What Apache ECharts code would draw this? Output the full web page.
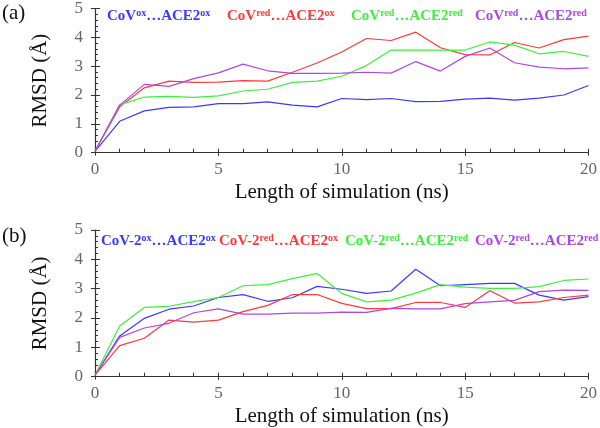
<!DOCTYPE html>
<html><head><meta charset="utf-8">
<script src="https://cdn.jsdelivr.net/npm/echarts@6/dist/echarts.min.js"></script>
<style>html,body{margin:0;padding:0;background:#fff}#c{width:600px;height:428px}</style>
</head><body><div id="c"></div>
<script>
const time = [0,1,2,3,4,5,6,7,8,9,10,11,12,13,14,15,16,17,18,19,20];
const xTicks = [0,5,10,15,20];
const yTicks = [0,1,2,3,4,5];
// panel (a)
const a_ox_ox   = [0.05,1.09,1.45,1.57,1.59,1.70,1.70,1.76,1.65,1.59,1.88,1.84,1.88,1.77,1.78,1.86,1.89,1.82,1.89,2.00,2.33];
const a_red_ox  = [0.05,1.59,2.25,2.48,2.44,2.45,2.50,2.48,2.79,3.11,3.49,3.96,3.89,4.18,3.64,3.40,3.39,3.82,3.63,3.92,4.04];
const a_red_red = [0.05,1.66,1.93,1.95,1.92,1.97,2.14,2.20,2.44,2.48,2.65,3.02,3.56,3.56,3.56,3.56,3.84,3.73,3.43,3.51,3.34];
const a_red_red2= [0.05,1.65,2.37,2.30,2.57,2.77,3.07,2.84,2.75,2.75,2.76,2.79,2.76,3.16,2.83,3.34,3.63,3.12,2.97,2.91,2.94];
// panel (b)
const b_ox_ox   = [0.05,1.39,1.99,2.30,2.41,2.70,2.80,2.57,2.69,3.08,2.98,2.84,2.92,3.66,3.10,3.14,3.18,3.18,2.78,2.61,2.73];
const b_red_ox  = [0.05,1.06,1.31,1.93,1.86,1.93,2.22,2.43,2.80,2.80,2.50,2.32,2.32,2.53,2.53,2.36,2.93,2.51,2.55,2.70,2.78];
const b_red_red = [0.05,1.73,2.36,2.40,2.56,2.70,3.10,3.14,3.34,3.52,2.84,2.55,2.61,2.85,3.14,3.05,3.01,3.01,3.07,3.28,3.33];
const b_red_red2= [0.05,1.34,1.66,1.82,2.18,2.31,2.13,2.13,2.17,2.17,2.20,2.19,2.33,2.31,2.31,2.49,2.55,2.60,2.90,2.95,2.94];

const C = {blue:'#3a3aff', red:'#ff3a3a', green:'#3cf03c', purple:'#b046e6'};
const serif = '"Liberation Serif","DejaVu Serif",serif';
const pair = arr => time.map((t,i)=>[t,arr[i]]);

function mainX(gi){return {type:'value',gridIndex:gi,min:xTicks[0],max:xTicks[xTicks.length-1],interval:xTicks[1]-xTicks[0],
  name:'Length of simulation (ns)',nameLocation:'middle',nameGap:29,
  nameTextStyle:{fontFamily:serif,fontSize:21,color:'#111'},
  axisLine:{lineStyle:{color:'#333',width:1.2}},
  axisTick:{inside:true,length:4,lineStyle:{color:'#333'}},
  minorTick:{show:true,splitNumber:5,length:4,lineStyle:{color:'#333'}},
  axisLabel:{fontFamily:serif,fontSize:17,color:'#666',margin:8},
  splitLine:{show:false}};}
function ovX(gi){return {type:'value',gridIndex:gi,min:0,max:20,interval:5,position:'bottom',
  axisLine:{show:false},axisTick:{show:true,inside:false,length:3,lineStyle:{color:'#333'}},
  axisLabel:{show:false},splitLine:{show:false}};}
function mainY(gi){return {type:'value',gridIndex:gi,min:yTicks[0],max:yTicks[yTicks.length-1],interval:1,
  name:'RMSD (Å)',nameLocation:'middle',nameGap:44,
  nameTextStyle:{fontFamily:serif,fontSize:21,color:'#111'},
  axisLine:{show:true,lineStyle:{color:'#333',width:1.2}},
  axisTick:{show:true,inside:true,length:5,lineStyle:{color:'#333'}},
  minorTick:{show:true,splitNumber:5,length:3,lineStyle:{color:'#333'}},
  axisLabel:{fontFamily:serif,fontSize:17,color:'#666',margin:12},
  splitLine:{show:false}};}
function ovY(gi){return {type:'value',gridIndex:gi,min:0,max:5,interval:1,position:'left',
  axisLine:{show:false},axisTick:{show:true,inside:false,length:4,lineStyle:{color:'#333'}},
  axisLabel:{show:false},splitLine:{show:false}};}

function ser(xi,yi,data,color){return {type:'line',xAxisIndex:xi,yAxisIndex:yi,data:pair(data),
  showSymbol:false,symbol:'none',lineStyle:{color:color,width:1.2},itemStyle:{color:color},animation:false,z:3};}

function legendText(x,y,parts,color){
  return {type:'text',left:x,top:y,style:{
    text:parts.map(p=>'{'+p[0]+'|'+p[1]+'}').join(''),
    rich:{m:{fontFamily:serif,fontSize:15,fontWeight:'bold',fill:color,lineHeight:16,verticalAlign:'bottom'},
          s:{fontFamily:serif,fontSize:10,fontWeight:'bold',fill:color,lineHeight:16,verticalAlign:'top'}}}};
}

const chart = echarts.init(document.getElementById('c'),null,{renderer:'canvas'});
chart.setOption({
  animation:false,
  backgroundColor:'#fff',
  grid:[{left:95,right:10,top:6.7,height:146},{left:95,right:10,top:230,height:146.7}],
  xAxis:[mainX(0),ovX(0),mainX(1),ovX(1)],
  yAxis:[mainY(0),ovY(0),mainY(1),ovY(1)],
  series:[
    ser(0,0,a_ox_ox,C.blue),ser(0,0,a_red_ox,C.red),ser(0,0,a_red_red,C.green),ser(0,0,a_red_red2,C.purple),
    ser(2,2,b_ox_ox,C.blue),ser(2,2,b_red_ox,C.red),ser(2,2,b_red_red,C.green),ser(2,2,b_red_red2,C.purple)
  ],
  graphic:[
    {type:'text',left:2,top:3,style:{text:'(a)',fontFamily:serif,fontSize:21,fill:'#111'}},
    {type:'text',left:2,top:226,style:{text:'(b)',fontFamily:serif,fontSize:21,fill:'#111'}},
    legendText(107,8,[['m','CoV'],['s','ox'],['m','…ACE2'],['s','ox']],C.blue),
    legendText(227,8,[['m','CoV'],['s','red'],['m','…ACE2'],['s','ox']],C.red),
    legendText(351,8,[['m','CoV'],['s','red'],['m','…ACE2'],['s','red']],C.green),
    legendText(475,8,[['m','CoV'],['s','red'],['m','…ACE2'],['s','red']],C.purple),
    legendText(101,233,[['m','CoV-2'],['s','ox'],['m','…ACE2'],['s','ox']],C.blue),
    legendText(219,233,[['m','CoV-2'],['s','red'],['m','…ACE2'],['s','ox']],C.red),
    legendText(345,233,[['m','CoV-2'],['s','red'],['m','…ACE2'],['s','red']],C.green),
    legendText(475,233,[['m','CoV-2'],['s','red'],['m','…ACE2'],['s','red']],C.purple)
  ]
});
</script></body></html>
